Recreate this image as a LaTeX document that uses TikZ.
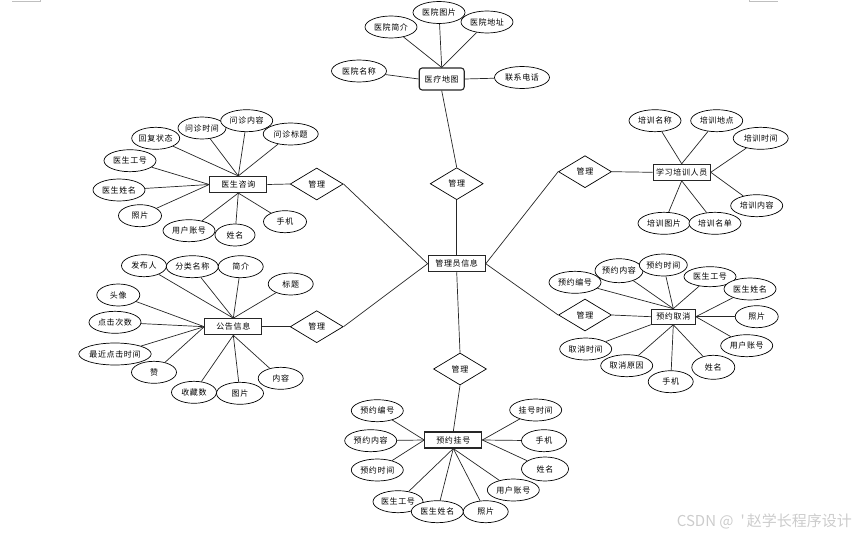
\documentclass[tikz,border=0pt]{standalone}
\usepackage{fontspec}
\setmainfont{Noto Sans CJK SC}[LetterSpace=8]
\newfontfamily\wmfont{Noto Sans CJK SC}
\usetikzlibrary{shapes.geometric}

\begin{document}
\begin{tikzpicture}[
  x=1pt, y=-1pt,
  every node/.style={font=\fontsize{8}{9}\selectfont},
  ent/.style={draw=black!85, line width=1.1pt, fill=white, minimum width=57pt, minimum height=16pt, inner sep=1pt},
  attr/.style={draw, ellipse, line width=0.7pt, fill=white, minimum width=52pt, minimum height=22pt, inner sep=0pt},
  rel/.style={draw, diamond, line width=0.7pt, fill=white, minimum width=53pt, minimum height=32pt, inner sep=0pt},
  link/.style={line width=0.7pt, black!85},
]
\useasboundingbox (0,0) rectangle (856,535);

% page corner marks
\draw[gray!50, line width=0.6pt] (12,1.3) -- (40.5,1.3) -- (40.5,0);
\draw[gray!50, line width=0.6pt] (778,1.3) -- (749.5,1.3) -- (749.5,0);

% ── centre ──
\node[ent] (a) at (456.7,263.7) {管理员信息};

% ── 医疗地图 ──
\node[ent, rounded corners=3pt, minimum width=45pt, minimum height=22pt] (m) at (441.7,79) {医疗地图};
\node[attr] (m1) at (391,27)   {医院简介};
\node[attr] (m2) at (439,12.5) {医院图片};
\node[attr] (m3) at (487,22)   {医院地址};
\node[attr, minimum width=55pt] (m4) at (359,71) {医院名称};
\node[attr, minimum width=55pt] (m5) at (522,77.5) {联系电话};
\node[rel] (d1) at (456.7,183.7) {管理};

% ── 医生咨询 ──
\node[ent] (c) at (238.3,184.5) {医生咨询};
\node[attr, minimum width=45pt] (c1) at (155.7,138.3) {回复状态};
\node[attr, minimum width=45pt] (c2) at (202,128)     {问诊时间};
\node[attr] (c3) at (246.7,120.7) {问诊内容};
\node[attr, minimum width=55pt] (c4) at (290.7,134) {问诊标题};
\node[attr] (c5) at (130,160.7) {医生工号};
\node[attr] (c6) at (119,190)   {医生姓名};
\node[attr, minimum width=43pt] (c7) at (140,215.7) {照片};
\node[attr] (c8) at (189,230.7) {用户账号};
\node[attr, minimum width=40pt] (c9) at (235,235) {姓名};
\node[attr, minimum width=43pt] (c10) at (285,221.7) {手机};
\node[rel] (d2) at (316.7,184) {管理};

% ── 学习培训人员 ──
\node[ent] (t) at (681.7,172.3) {学习培训人员};
\node[attr] (t1) at (655,120.7)   {培训名称};
\node[attr] (t2) at (716.7,120.7) {培训地点};
\node[attr, minimum width=55pt] (t3) at (760.7,138.3) {培训时间};
\node[attr] (t4) at (756.7,205.7) {培训内容};
\node[attr] (t5) at (664,223.3)   {培训图片};
\node[attr] (t6) at (715,223.3)   {培训名单};
\node[rel] (d3) at (585,171.7) {管理};

% ── 公告信息 ──
\node[ent] (n) at (233.3,326.7) {公告信息};
\node[attr, minimum width=45pt] (n1) at (144,265.7)   {发布人};
\node[attr] (n2) at (192.3,266.7) {分类名称};
\node[attr, minimum width=45pt] (n3) at (240.7,266.7) {简介};
\node[attr, minimum width=45pt] (n4) at (290.7,284)   {标题};
\node[attr, minimum width=43pt] (n5) at (118.3,295)   {头像};
\node[attr] (n6) at (115,322.3) {点击次数};
\node[attr, minimum width=70pt] (n7) at (115,354) {最近点击时间};
\node[attr, minimum width=45pt] (n8) at (154,372.3)   {赞};
\node[attr, minimum width=45pt] (n9) at (194,392.3)   {收藏数};
\node[attr, minimum width=47pt] (n10) at (240,393.3)  {图片};
\node[attr, minimum width=45pt] (n11) at (280.7,378.3) {内容};
\node[rel] (d4) at (316.7,326.7) {管理};

% ── 预约取消 ──
\node[ent, minimum width=44pt, minimum height=15pt] (q) at (673.3,316.7) {预约取消};
\node[attr] (q1) at (575,282.3) {预约编号};
\node[attr, minimum width=45pt, minimum height=24pt] (q2) at (619,270.7) {预约内容};
\node[attr, minimum width=47pt] (q3) at (663.3,265) {预约时间};
\node[attr, minimum height=20pt] (q4) at (710,276.7) {医生工号};
\node[attr] (q5) at (750,289) {医生姓名};
\node[attr, minimum width=43pt] (q6) at (756.7,316.7) {照片};
\node[attr] (q7) at (746.7,345.7) {用户账号};
\node[attr, minimum width=43pt, minimum height=24pt] (q8) at (713.3,367.3) {姓名};
\node[attr, minimum width=45pt] (q9) at (670.7,381.7) {手机};
\node[attr] (q10) at (626.7,365.7) {取消原因};
\node[attr] (q11) at (585.7,349)   {取消时间};
\node[rel] (d5) at (585,315) {管理};

% ── 预约挂号 ──
\node[ent] (g) at (453.3,440) {预约挂号};
\node[attr] (g1) at (377.3,410.7) {预约编号};
\node[attr] (g2) at (370.7,440.7) {预约内容};
\node[attr] (g3) at (377.3,470)   {预约时间};
\node[attr] (g4) at (535.7,410)   {挂号时间};
\node[attr, minimum width=45pt] (g5) at (544,440.7) {手机};
\node[attr, minimum width=47pt, minimum height=24pt] (g6) at (545,469) {姓名};
\node[attr] (g7) at (513.3,490) {用户账号};
\node[attr, minimum width=50pt] (g10) at (398,501.7) {医生工号};
\node[attr] (g9) at (437.3,511.7) {医生姓名};
\node[attr, minimum width=45pt] (g8) at (485.7,511.7) {照片};
\node[rel] (d6) at (460,369) {管理};

% ── connectors ──
\foreach \k in {m1,m2,m3} \draw[link] (m.north) -- (\k);
\draw[link] (m.west) -- (m4); \draw[link] (m.east) -- (m5);
\draw[link] (m.south) -- (d1.north); \draw[link] (d1.south) -- (a.north);

\foreach \k in {c1,c2,c3,c4} \draw[link] (c.north) -- (\k);
\foreach \k in {c5,c6,c7} \draw[link] (c.west) -- (\k);
\foreach \k in {c8,c9,c10} \draw[link] (c.south) -- (\k);
\draw[link] (c.east) -- (d2.west); \draw[link] (d2.east) -- (a.west);

\foreach \k in {t1,t2} \draw[link] (t.north) -- (\k);
\foreach \k in {t3,t4} \draw[link] (t.east) -- (\k);
\foreach \k in {t5,t6} \draw[link] (t.south) -- (\k);
\draw[link] (t.west) -- (d3.east); \draw[link] (d3.west) -- (a.east);

\foreach \k in {n1,n2,n3,n4} \draw[link] (n.north) -- (\k);
\foreach \k in {n5,n6,n7,n8} \draw[link] (n.west) -- (\k);
\foreach \k in {n9,n10,n11} \draw[link] (n.south) -- (\k);
\draw[link] (n.east) -- (d4.west); \draw[link] (d4.east) -- (a.west);

\foreach \k in {q1,q2,q3,q4} \draw[link] (q.north) -- (\k);
\foreach \k in {q5,q6,q7} \draw[link] (q.east) -- (\k);
\foreach \k in {q8,q9,q10} \draw[link] (q.south) -- (\k);
\draw[link] (q.south west) -- (q11);
\draw[link] (q.west) -- (d5.east); \draw[link] (d5.west) -- (a.east);

\foreach \k in {g1,g2,g3} \draw[link] (g.west) -- (\k);
\foreach \k in {g4,g5,g6} \draw[link] (g.east) -- (\k);
\foreach \k in {g7,g8,g9,g10} \draw[link] (g.south) -- (\k);
\draw[link] (a.south) -- (d6.north); \draw[link] (d6.south) -- (g.north);

% watermark
\node[text=gray!40, font=\wmfont\fontsize{15}{16}\selectfont, anchor=east, inner sep=0pt] (wm) at (852,521) {CSDN @\hspace{7pt}'\hspace{2pt}赵学长程序设计};

\end{tikzpicture}
\end{document}
